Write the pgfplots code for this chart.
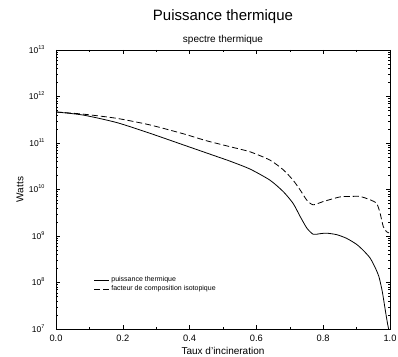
\documentclass[border=0pt]{standalone}
\usepackage{fontspec}
\setmainfont{Liberation Sans}
\usepackage{pgfplots}
\pgfplotsset{compat=1.18}
\newcommand{\dec}[1]{10\raisebox{0.45em}{\fontsize{5.5}{6}\selectfont #1}}
\begin{document}
\begin{tikzpicture}
\useasboundingbox (0,0) rectangle (398pt,356pt);
\begin{axis}[
  at={(56pt,27pt)}, anchor=south west,
  width=334pt, height=279pt, scale only axis,
  xmin=0, xmax=1, ymode=log, ymin=1e7, ymax=1e13,
  axis line style={line width=0.8pt},
  tick align=inside, major tick length=4pt, minor tick length=2pt,
  tick style={black, line width=0.5pt},
  xtick={0,0.2,0.4,0.6,0.8,1.0},
  xticklabels={0.0,0.2,0.4,0.6,0.8,1.0},
  minor xtick={0.1,0.3,0.5,0.7,0.9},
  ytick={1e7,1e8,1e9,1e10,1e11,1e12,1e13},
  yticklabels={\dec{7},\dec{8},\dec{9},\dec{10},\dec{11},\dec{12},\dec{13}},
  minor ytick={2e7,3e7,4e7,5e7,6e7,7e7,8e7,9e7,
               2e8,3e8,4e8,5e8,6e8,7e8,8e8,9e8,
               2e9,3e9,4e9,5e9,6e9,7e9,8e9,9e9,
               2e10,3e10,4e10,5e10,6e10,7e10,8e10,9e10,
               2e11,3e11,4e11,5e11,6e11,7e11,8e11,9e11,
               2e12,3e12,4e12,5e12,6e12,7e12,8e12,9e12},
  /pgf/number format/assume math mode=true,
  xticklabel style={font=\fontsize{9.3}{11}\selectfont, anchor=center, yshift=-9pt},
  yticklabel style={font=\fontsize{8.5}{10}\selectfont, anchor=base east, xshift=-8pt, yshift=-3.1pt},
  xlabel={Taux d'incineration},
  ylabel={Watts},
  label style={font=\fontsize{10}{12}\selectfont},
  xlabel style={at={(axis description cs:0.5,-0.078)}, anchor=center},
  ylabel style={at={(axis description cs:-0.108,0.5)}, anchor=center, rotate=0},
  legend style={draw=none, fill=none, font=\fontsize{7}{8}\selectfont,
    at={(axis description cs:0.112,0.195)}, anchor=north west,
    row sep=-1.5pt, inner sep=0pt},
  legend cell align=left,
  legend image code/.code={\draw[#1] (0pt,0pt) -- (15pt,0pt);},
]
\addplot[black, line width=0.8pt, smooth, tension=0.4] coordinates {
(0.000,4.65e11) (0.082,3.98e11) (0.182,2.75e11) (0.281,1.62e11)
(0.381,9.12e10) (0.481,5.13e10) (0.521,4.07e10) (0.581,2.75e10)
(0.641,1.58e10) (0.681,8.91e9) (0.710,5.01e9) (0.731,2.63e9)
(0.751,1.48e9) (0.770,1.09e9) (0.790,1.12e9) (0.810,1.15e9)
(0.840,1.07e9) (0.870,8.91e8) (0.900,6.61e8) (0.920,4.90e8)
(0.940,3.39e8) (0.955,2.14e8) (0.967,1.32e8) (0.977,6.31e7)
(0.986,2.51e7) (0.993,1.26e7) (0.996,1.0e7)
};
\addlegendentry{puissance thermique}
\addplot[black, line width=0.8pt, dash pattern=on 6pt off 3pt, smooth, tension=0.4] coordinates {
(0.000,4.65e11) (0.082,4.17e11) (0.182,3.39e11) (0.281,2.45e11)
(0.381,1.58e11) (0.450,1.12e11) (0.521,8.32e10) (0.581,6.46e10)
(0.641,4.27e10) (0.681,2.63e10) (0.710,1.58e10) (0.731,9.77e9)
(0.751,5.89e9) (0.770,4.68e9) (0.800,5.50e9) (0.850,6.92e9)
(0.880,7.08e9) (0.910,7.08e9) (0.940,6.03e9) (0.960,5.01e9)
(0.970,3.16e9) (0.980,1.58e9) (0.990,1.23e9) (0.997,1.17e9)
};
\addlegendentry{facteur de composition isotopique}
\end{axis}
\node[font=\fontsize{10}{12}\selectfont] at (223pt,316pt) {spectre thermique};
\node[font=\fontsize{15}{18}\selectfont] at (223pt,339pt) {Puissance thermique};
\end{tikzpicture}
\end{document}
